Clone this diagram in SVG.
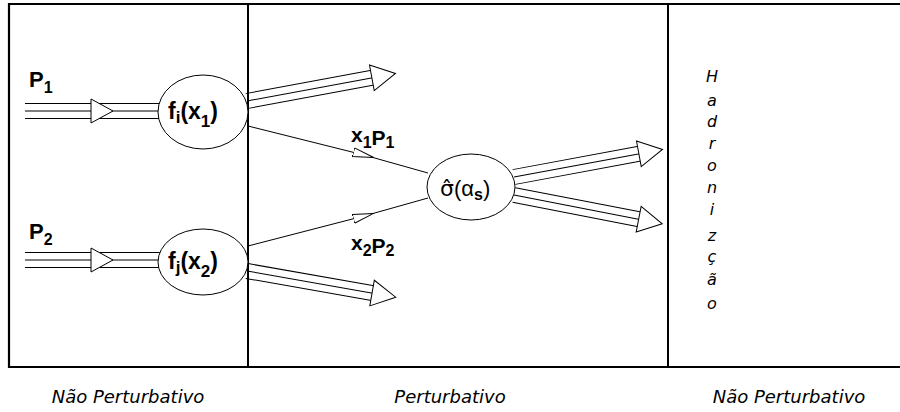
<svg xmlns="http://www.w3.org/2000/svg" width="900" height="412" viewBox="0 0 900 412">
<style>
.frame{fill:none;stroke:#000;stroke-width:2.2}
.div{stroke:#000;stroke-width:2}
.node{fill:#fff;stroke:#000;stroke-width:1}
.thin{fill:none;stroke:#000;stroke-width:1}
.lbl{font-family:"Liberation Sans",Arial,sans-serif;font-size:21px;font-weight:bold;fill:#000}
.sub{font-size:16px}
.it{font-family:"DejaVu Sans",Verdana,sans-serif;font-style:italic;font-size:16px;fill:#000}
.bot{font-family:"DejaVu Sans",Verdana,sans-serif;font-style:italic;font-size:18px;fill:#000}
</style>
<defs>
<g id="triple">
<line x1="0" y1="-7.5" x2="132" y2="-7.5" stroke="#000" stroke-width="1"/>
<line x1="0" y1="0" x2="132" y2="0" stroke="#000" stroke-width="1"/>
<line x1="0" y1="7.5" x2="132" y2="7.5" stroke="#000" stroke-width="1"/>
<path d="M127,-13 L151,0 L127,13 Z" fill="#fff" stroke="#000" stroke-width="1"/>
</g>
<g id="inlet">
<line x1="0" y1="-7.5" x2="136" y2="-7.5" stroke="#000" stroke-width="1"/>
<line x1="0" y1="0" x2="136" y2="0" stroke="#000" stroke-width="1"/>
<line x1="0" y1="7.5" x2="136" y2="7.5" stroke="#000" stroke-width="1"/>
<path d="M66,-12 L88,0 L66,12 Z" fill="#fff" stroke="#000" stroke-width="1"/>
</g>
<marker id="mid" markerWidth="24" markerHeight="14" refX="11" refY="6" orient="auto" markerUnits="userSpaceOnUse" viewBox="0 0 24 14">
<path d="M0,1.5 L21,6 L0,10.5 Z" fill="#fff" stroke="#000" stroke-width="1"/>
</marker>
</defs>

<g id="frame">
<path class="frame" d="M900,4 H9 V367 H900"/>
<line class="div" x1="248" y1="4" x2="248" y2="367"/>
<line class="div" x1="668" y1="4" x2="668" y2="367"/>
</g>

<g id="connectors">
<use href="#inlet" transform="translate(25,111)"/>
<use href="#inlet" transform="translate(25,260)"/>
<use href="#triple" transform="translate(247,101) rotate(-10.5)"/>
<use href="#triple" transform="translate(247,271) rotate(10)"/>
<use href="#triple" transform="translate(514,177) rotate(-10.5)"/>
<use href="#triple" transform="translate(514,195) rotate(11)"/>
<path class="thin" d="M248,126 L364,155 L428,173" marker-mid="url(#mid)"/>
<path class="thin" d="M248,246 L364,216 L428,198" marker-mid="url(#mid)"/>
</g>

<g id="node-fi">
<ellipse class="node" cx="203" cy="112" rx="45" ry="37"/>
<text class="lbl" x="168" y="119" style="font-size:23px">f<tspan class="sub" dy="4" style="font-size:17px">i</tspan><tspan dy="-4">(x</tspan><tspan class="sub" dy="8" style="font-size:17px">1</tspan><tspan dy="-8">)</tspan></text>
</g>

<g id="node-fj">
<ellipse class="node" cx="203" cy="262" rx="45" ry="33"/>
<text class="lbl" x="168" y="269" style="font-size:23px">f<tspan class="sub" dy="4" style="font-size:17px">j</tspan><tspan dy="-4">(x</tspan><tspan class="sub" dy="8" style="font-size:17px">2</tspan><tspan dy="-8">)</tspan></text>
</g>

<g id="node-sigma">
<ellipse class="node" cx="471" cy="187" rx="44" ry="33"/>
<text class="lbl" x="440" y="196" style="font-weight:normal;font-size:22px"><tspan style="font-family:'DejaVu Sans',sans-serif">σ̂</tspan>(α<tspan class="sub" dy="4" style="font-weight:bold">s</tspan><tspan dy="-4">)</tspan></text>
</g>

<g id="labels">
<text class="lbl" x="29" y="87" style="font-size:22px">P<tspan class="sub" dy="6">1</tspan></text>
<text class="lbl" x="29" y="239" style="font-size:22px">P<tspan class="sub" dy="6">2</tspan></text>
<text class="lbl" x="351" y="142">x<tspan class="sub" dy="6">1</tspan><tspan dy="-3">P</tspan><tspan class="sub" dy="3">1</tspan></text>
<text class="lbl" x="351" y="250">x<tspan class="sub" dy="6">2</tspan><tspan dy="-3">P</tspan><tspan class="sub" dy="3">2</tspan></text>
</g>

<g id="hadronizacao" class="it" text-anchor="middle">
<text x="712" y="82">H</text>
<text x="712" y="106">a</text>
<text x="712" y="127">d</text>
<text x="712" y="149">r</text>
<text x="712" y="171">o</text>
<text x="712" y="193">n</text>
<text x="712" y="215">i</text>
<text x="712" y="241">z</text>
<text x="712" y="262">ç</text>
<text x="712" y="285">ã</text>
<text x="712" y="309">o</text>
</g>

<g id="regions" class="bot" text-anchor="middle">
<text x="128" y="403">Não Perturbativo</text>
<text x="450" y="403">Perturbativo</text>
<text x="789" y="403">Não Perturbativo</text>
</g>
</svg>
